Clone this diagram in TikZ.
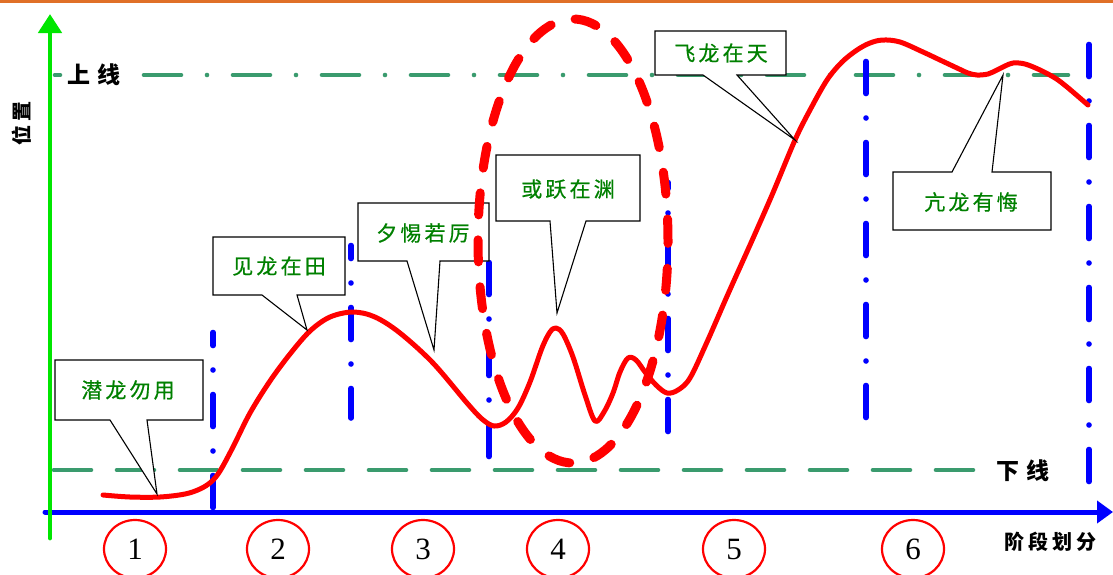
\documentclass[tikz,border=0pt]{standalone}
\usepackage{fontspec}
\setmainfont{Liberation Serif}
\newfontfamily\cjkg{Noto Sans CJK SC}[LetterSpace=15, FakeBold=0.6]
\newfontfamily\cjkb{Noto Sans CJK SC}[LetterSpace=30]
\newfontfamily\cjkc{Noto Sans CJK SC}[LetterSpace=20]
\usetikzlibrary{arrows.meta}
\definecolor{axgreen}{RGB}{0,230,0}
\definecolor{lvgreen}{RGB}{58,155,110}
\definecolor{txtgreen}{RGB}{0,128,0}
\definecolor{topor}{RGB}{224,112,40}
\definecolor{divblue}{RGB}{0,0,255}
\definecolor{curvered}{RGB}{255,0,0}
\begin{document}
\begin{tikzpicture}[x=1pt,y=-1pt,
  every node/.style={inner sep=0pt, outer sep=0pt},
  callout/.style={draw=black, line width=1.1pt, fill=white, line join=miter},
  calltext/.style={text=txtgreen, font=\cjkg\fontsize{21}{24}\selectfont},
  levellabel/.style={text=black, font=\cjkb\bfseries\fontsize{23}{26}\selectfont},
  axislabel/.style={text=black, font=\cjkc\bfseries\fontsize{20}{24}\selectfont},
  lvsolid/.style={draw=lvgreen, line width=4.6pt, line cap=round},
  lvupper/.style={lvsolid, dash pattern=on 37pt off 26pt on 0pt off 26pt},
  lvlower/.style={lvsolid, dash pattern=on 37pt off 26pt},
  divider/.style={draw=divblue, line width=5.6pt, line cap=round,
    dash pattern=on 32pt off 24.5pt on 0pt off 24.5pt},
  stagering/.style={draw=curvered, line width=2.2pt},
  stagenum/.style={text=black, font=\fontsize{31}{34}\selectfont},
]
\useasboundingbox (0,0) rectangle (1113,574);
\fill[topor] (0,0) rectangle (1113,3);

% level lines
\draw[lvsolid] (55,75) -- (60,75);
\draw[lvupper] (144,75) -- (1068,75);
\draw[lvlower] (54,470) -- (973,470);
\node[levellabel] (up) at (94,75) {上线};
\node[levellabel] (down) at (1023,471) {下线};

% stage dividers
\draw[divider, dash phase=19pt] (213,332.5) -- (213,512);
\draw[divider, dash phase=19pt] (351,245.5) -- (351,418);
\draw[divider] (489,262.5) -- (489,457.5);
\draw[divider, dash phase=26pt] (668,182.5) -- (668,431.5);
\draw[divider, dash phase=56.5pt] (866,37) -- (866,420);
\draw[divider] (1089,44.5) -- (1089,482);

% axes
\coordinate (xs) at (45,512);
\coordinate (xe) at (1113,512);
\coordinate (ys) at (50,538);
\coordinate (ye) at (50,14);
\draw[divblue, line width=5pt, line cap=round, -{Triangle[length=16pt,width=22pt]}] (xs) -- (xe);
\draw[axgreen, line width=4.8pt, line cap=round, -{Triangle[length=19pt,width=23pt]}] (ys) -- (ye);
\node[axislabel, rotate=90] (ylab) at (22,123) {位置};
\node[axislabel] (xlab) at (1050,542) {阶段划分};

% trend curve
\draw[curvered, line width=5pt, line cap=round, line join=round]
  plot[smooth, tension=0.55] coordinates {
  (103,495) (130,497) (160,497) (185,494) (200,489) (211,482) (220,471)
  (233,447) (250,413) (270,381) (290,354) (310,331) (330,317) (353,312)
  (375,317) (400,333) (433,363) (467,403) (482,419) (494,426) (506,422)
  (518,408) (530,382) (542,348) (550,332) (556,328) (563,334) (573,357)
  (585,395) (595,421) (604,412) (613,393) (620,372) (628,358) (636,360)
  (645,372) (656,385) (667,393) (678,390) (690,378) (707,342) (728,294)
  (750,245) (772,195) (795,140) (810,110) (827,80) (842,62) (857,50)
  (870,43) (883,40) (900,42) (923,52) (940,60) (957,68) (968,73) (977,75)
  (988,74) (997,70) (1005,66) (1013,63) (1025,64) (1040,70) (1055,78)
  (1067,87) (1088,105)};

% callouts
\coordinate (p1) at (157,494);
\draw[callout] (55,360) -- (203,360) -- (203,420) -- (147,420) -- (p1) -- (110,420) -- (55,420) -- cycle;
\node[calltext] (c1) at (128,390) {潜龙勿用};

\coordinate (p2) at (307,330);
\draw[callout] (213,237) -- (345,237) -- (345,295) -- (297,295) -- (p2) -- (262,295) -- (213,295) -- cycle;
\node[calltext] (c2) at (279,266) {见龙在田};

\coordinate (p3) at (434,350);
\draw[callout] (358,203) -- (489,203) -- (489,261) -- (440,261) -- (p3) -- (407,261) -- (358,261) -- cycle;
\node[calltext] (c3) at (423,233) {夕惕若厉};

\coordinate (p4) at (557,313);
\draw[callout] (496,155) -- (640,155) -- (640,221) -- (586,221) -- (p4) -- (550,221) -- (496,221) -- cycle;
\node[calltext] (c4) at (568,189) {或跃在渊};

\coordinate (p5) at (795,140);
\draw[callout] (655,31) -- (786,31) -- (786,75) -- (737,75) -- (p5) -- (703,75) -- (655,75) -- cycle;
\node[calltext] (c5) at (721,53) {飞龙在天};

\coordinate (p6) at (1003,75);
\draw[callout] (893,172) -- (952,172) -- (p6) -- (992,172) -- (1051,172) -- (1051,230) -- (893,230) -- cycle;
\node[calltext] (c6) at (971,202) {亢龙有悔};

% highlight ellipse
\draw[curvered, line width=9pt, line cap=round, dash pattern=on 22pt off 25pt]
  (573,241) ellipse [x radius=95pt, y radius=222pt];

% stage numbers
\foreach \n/\x in {1/135,2/278,3/423,4/558,5/734,6/913}{
  \draw[stagering] (\x,549) ellipse [x radius=31pt, y radius=29pt];
  \node[stagenum] (s\n) at (\x,549) {\n};
}
\end{tikzpicture}
\end{document}
